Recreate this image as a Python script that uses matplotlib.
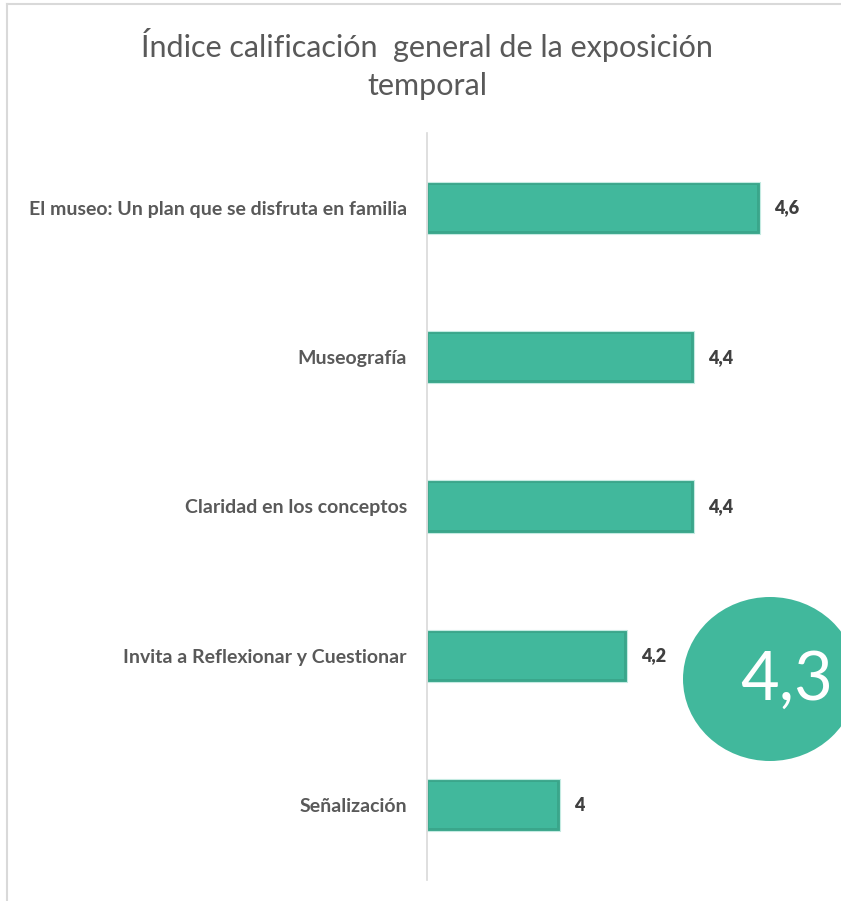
import matplotlib
matplotlib.use("Agg")
import matplotlib.pyplot as plt
from matplotlib.patches import Ellipse
from matplotlib.lines import Line2D

categories = [
    "El museo: Un plan que se disfruta en familia",
    "Museografía",
    "Claridad en los conceptos",
    "Invita a Reflexionar y Cuestionar",
    "Señalización",
]
values = [4.6, 4.4, 4.4, 4.2, 4.0]
value_labels = ["4,6", "4,4", "4,4", "4,2", "4"]
overall_label = "4,3"
title = "Índice calificación  general de la exposición\ntemporal"

plt.rcParams["font.family"] = ["Lato", "DejaVu Sans"]

W, H = 841, 901
fig = plt.figure(figsize=(W / 100, H / 100), dpi=100)
fig.patch.set_facecolor("white")

# light frame around the chart area
fig.add_artist(Line2D([7 / W, 1.0], [1 - 4 / H, 1 - 4 / H], color="#d9d9d9", lw=1.5,
                      transform=fig.transFigure))
fig.add_artist(Line2D([7 / W, 7 / W], [1 - 4 / H, 0.0], color="#d9d9d9", lw=1.5,
                      transform=fig.transFigure))

ax = fig.add_axes([427 / W, 1 - 880 / H, 400 / W, 747 / H])
xmin, xmax = 3.6, 4.8
ax.set_xlim(xmin, xmax)
ax.set_ylim(len(categories) - 0.5, -0.5)

teal = "#41b89c"
ypos = list(range(len(categories)))
# darker base gives the bars a soft shaded rim
ax.barh(ypos, [v - xmin for v in values], left=xmin, height=0.35,
        color="#3aa68b", edgecolor="#c4ebe2", linewidth=0.8, zorder=2)
ax.barh(ypos, [v - xmin - 0.014 for v in values], left=xmin + 0.005, height=0.31,
        color=teal, linewidth=0, zorder=3)

for y, v, lab in zip(ypos, values, value_labels):
    ax.text(v + 0.042, y, lab, va="center", ha="left", fontsize=13,
            fontweight="heavy", color="#404040")

ax.set_yticks(ypos)
ax.set_yticklabels(categories, fontsize=14, fontweight="bold", color="#595959")
ax.tick_params(axis="y", length=0, pad=14.5)
ax.set_xticks([])
for s in ["top", "right", "bottom"]:
    ax.spines[s].set_visible(False)
ax.spines["left"].set_color("#d9d9d9")
ax.spines["left"].set_linewidth(1.2)

fig.text(0.508, 1 - 64 / H, title, ha="center", va="center", fontsize=22,
         fontweight="normal", color="#595959", linespacing=1.45)

# overall score badge
ell = Ellipse((770, H - 679), 174, 164, transform=None, facecolor=teal,
              edgecolor="none", zorder=5)
fig.add_artist(ell)
fig.text(787 / W, 1 - 681 / H, overall_label, ha="center", va="center",
         fontsize=48, color="white", fontweight="normal", zorder=6)

fig.savefig("out.png", dpi=100, facecolor="white")
